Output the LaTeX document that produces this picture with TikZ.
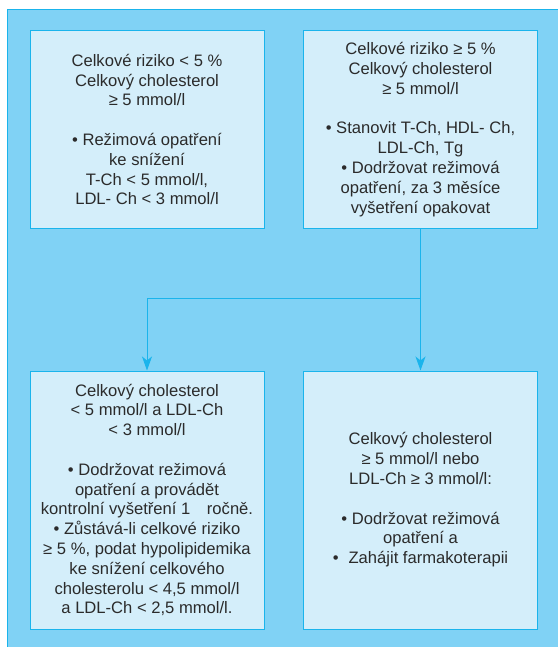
\documentclass[tikz,border=0pt]{standalone}
\usepackage{fontspec}
\setmainfont{Liberation Sans}
\usetikzlibrary{arrows.meta}
\definecolor{panelblue}{HTML}{80D2F5}
\definecolor{boxblue}{HTML}{D4EEFA}
\definecolor{edgeblue}{HTML}{1AB4EC}
\definecolor{inktext}{HTML}{2B2B2B}
\tikzset{
    info-box/.style = {draw=edgeblue, fill=boxblue, line width=1pt, rectangle, align=center, text=inktext, minimum width=234pt, inner sep=0pt, font=\fontsize{16.6}{19.8}\selectfont},
    flow-arrow/.style = {draw=edgeblue, line width=1pt, -{Stealth[length=14pt,width=10pt,inset=4pt]}},
}

\begin{document}
\begin{tikzpicture}[x=1pt,y=-1pt]
\useasboundingbox (0,0) rectangle (557,647);
\draw[edgeblue, fill=panelblue, line width=1pt] (7.5,10) rectangle (566,660);
\node [info-box, minimum height=197pt] (lowrisk) at (147,129.5) {Celkové riziko < 5 \%\\
    Celkový cholesterol\\
    ≥ 5 mmol/l\\[19.8pt]
    • Režimová opatření\\
    ke snížení\\
    T-Ch < 5 mmol/l,\\
    LDL- Ch < 3 mmol/l};
\node [info-box, minimum height=197pt] (highrisk) at (420.5,129.5) {Celkové riziko ≥ 5 \%\\
    Celkový cholesterol\\
    ≥ 5 mmol/l\\[19.8pt]
    • Stanovit T-Ch, HDL- Ch,\\
    LDL-Ch, Tg\\
    • Dodržovat režimová\\
    opatření, za 3 měsíce\\
    vyšetření opakovat};
\node [info-box, minimum height=258pt] (control) at (147,500) {Celkový cholesterol\\
    < 5 mmol/l a LDL-Ch\\
    < 3 mmol/l\\[19.8pt]
    • Dodržovat režimová\\
    opatření a provádět\\
    kontrolní vyšetření 1\hspace{1em}ročně.\\
    • Zůstává-li celkové riziko\\
    ≥ 5 \%, podat hypolipidemika\\
    ke snížení celkového\\
    cholesterolu < 4,5 mmol/l\\
    a LDL-Ch < 2,5 mmol/l.};
\node [info-box, minimum height=258pt] (therapy) at (420.5,500) {Celkový cholesterol\\
    ≥ 5 mmol/l nebo\\
    LDL-Ch ≥ 3 mmol/l:\\[19.8pt]
    • Dodržovat režimová\\
    opatření a\\
    •\hspace{0.6em}Zahájit farmakoterapii};
\coordinate (split) at (0,298);
\draw[flow-arrow] (highrisk.south) -- (therapy.north);
\draw[flow-arrow] (highrisk.south |- split) -| (control.north);
\end{tikzpicture}
\end{document}
